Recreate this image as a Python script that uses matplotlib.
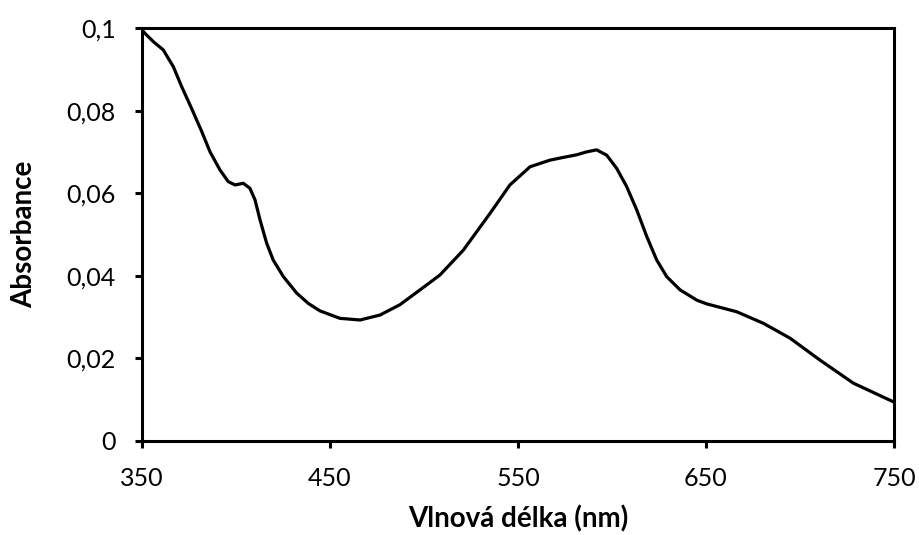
import matplotlib
matplotlib.use("Agg")
import matplotlib.pyplot as plt

wavelength = [350, 351.6, 356, 361.3, 366.7, 371.1, 376.4, 381.8, 386.2, 391.5, 395.9, 399.5,
              403.9, 407.4, 410.1, 412.8, 416.3, 419.8, 425.2, 432.3, 438.5, 444.7, 455.3,
              466, 476.6, 487.2, 497.9, 508.5, 520.9, 535.1, 545.7, 556.4, 567, 572.3,
              581.2, 586.5, 591.8, 597.2, 602.5, 607.8, 613.2, 618.5, 623.8, 629.1, 636.2,
              645.1, 650.4, 666.3, 680.5, 694.7, 710.6, 728.4, 749.6]
absorbance = [0.0995, 0.0987, 0.0967, 0.0947, 0.0906, 0.0858, 0.0805, 0.0749, 0.070, 0.0656,
              0.0628, 0.062, 0.0624, 0.0612, 0.0584, 0.0535, 0.0479, 0.0438, 0.0398, 0.0358,
              0.0333, 0.0315, 0.0297, 0.0293, 0.0305, 0.0330, 0.0366, 0.0402, 0.0462, 0.0551,
              0.062, 0.0664, 0.068, 0.0685, 0.0693, 0.070, 0.0705, 0.0692, 0.066, 0.0616,
              0.0559, 0.0495, 0.0438, 0.0398, 0.0366, 0.0341, 0.0332, 0.0313, 0.0285, 0.0249,
              0.0196, 0.014, 0.0095]

x_ticks = [350, 450, 550, 650, 750]
y_ticks = [0, 0.02, 0.04, 0.06, 0.08, 0.1]
y_tick_labels = ["0", "0,02", "0,04", "0,06", "0,08", "0,1"]

plt.rcParams['font.family'] = ['Lato', 'DejaVu Sans']

fig = plt.figure(figsize=(9.2, 5.35), dpi=100)
ax = fig.add_axes([142/920, 1 - 441/535, (894-142)/920, (441-28)/535])
ax.plot(wavelength, absorbance, color='black', lw=2.3, solid_joinstyle='round')
ax.set_xlim(350, 750)
ax.set_ylim(0, 0.1)
ax.set_xticks(x_ticks)
ax.set_xticklabels([str(v) for v in x_ticks])
ax.set_yticks(y_ticks)
ax.set_yticklabels(y_tick_labels)
for s in ax.spines.values():
    s.set_linewidth(2.2)
ax.tick_params(direction='out', length=5, width=2.2, labelsize=18)
ax.tick_params(axis='x', pad=14)
ax.tick_params(axis='y', pad=14)
ax.set_xlabel('Vlnová délka (nm)', fontsize=20, fontweight='bold', labelpad=11)
ax.set_ylabel('Absorbance', fontsize=20, fontweight='bold', labelpad=21)
fig.savefig('out.png', dpi=100)
